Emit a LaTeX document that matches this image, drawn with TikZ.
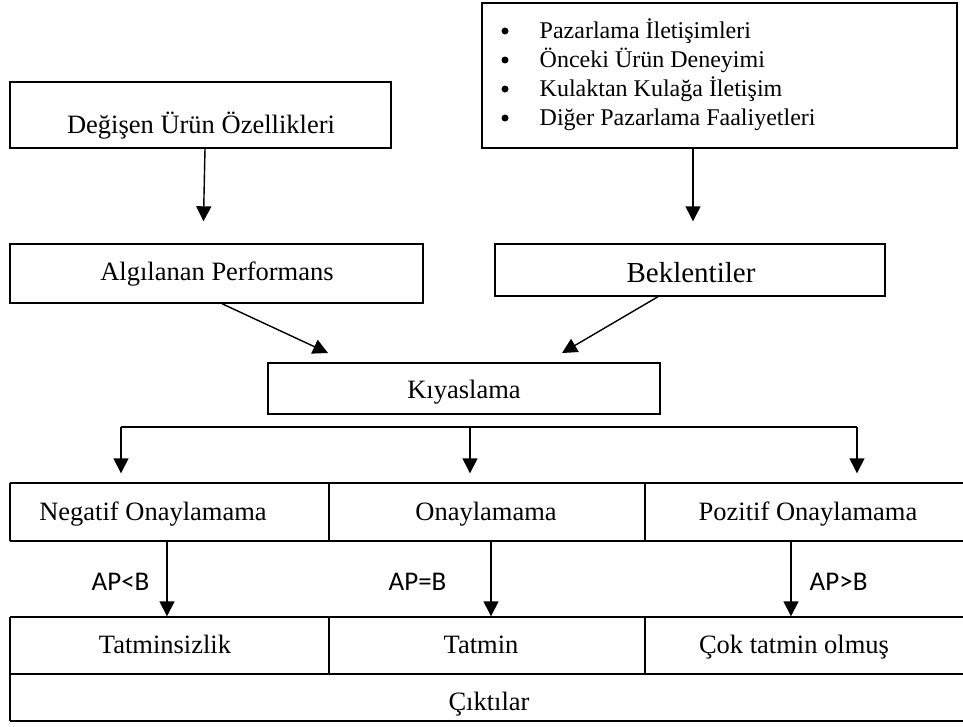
\documentclass[tikz,border=0pt]{standalone}
\usepackage{fontspec}
\setmainfont{Liberation Serif}
\newfontfamily\apfont{Carlito}
\usetikzlibrary{arrows.meta}
\begin{document}
\begin{tikzpicture}[x=1pt,y=-1pt,line width=1.4pt,
  box/.style={draw,rectangle,inner sep=0pt,line width=1.4pt},
  cellbox/.style={rectangle,inner sep=0pt},
  txt/.style={inner sep=0pt,anchor=base,font=\fontsize{26.5}{30}\selectfont},
  bigtxt/.style={inner sep=0pt,anchor=base,font=\fontsize{29}{33}\selectfont},
  bultxt/.style={inner sep=0pt,anchor=base west,font=\fontsize{24}{28}\selectfont},
  bulmark/.style={circle,fill=black,inner sep=0pt,minimum size=7pt},
  aptxt/.style={inner sep=0pt,anchor=base west,font=\apfont\fontsize{27}{31}\selectfont},
  arr/.style={-{Triangle[length=15pt,width=15pt]},line width=1.4pt},
  grid/.style={line width=1.4pt}]
\useasboundingbox[fill=white] (0,0) rectangle (963,726);

% top boxes
\node[box,minimum width=381pt,minimum height=66pt] (deg) at (200.5,115) {};
\node[txt] (degt) at (201,133) {Değişen Ürün Özellikleri};

\node[box,minimum width=475pt,minimum height=145pt] (src) at (719.5,75.5) {};
\node[bulmark] (b1) at (505,31) {};
\node[bulmark] (b2) at (505,60) {};
\node[bulmark] (b3) at (505,89) {};
\node[bulmark] (b4) at (505,118) {};
\node[bultxt] (s1) at (539,38.5) {Pazarlama İletişimleri};
\node[bultxt] (s2) at (539,67.5) {Önceki Ürün Deneyimi};
\node[bultxt] (s3) at (539,96.5) {Kulaktan Kulağa İletişim};
\node[bultxt] (s4) at (539,125.5) {Diğer Pazarlama Faaliyetleri};

% second row
\node[box,minimum width=413pt,minimum height=59pt] (alg) at (216.5,273.5) {};
\node[txt] (algt) at (217,280) {Algılanan Performans};
\node[box,minimum width=390pt,minimum height=52pt] (bek) at (690,270) {};
\node[bigtxt] (bekt) at (691,282) {Beklentiler};

\draw[arr,shorten >=22pt] ([xshift=4.5pt]deg.south) -- ([xshift=-13.5pt]alg.north);
\draw[arr,shorten >=22pt] ([xshift=-26.5pt]src.south) -- ([xshift=3pt]bek.north);

% comparison
\node[box,minimum width=392pt,minimum height=51pt] (kiy) at (464,388.5) {};
\node[txt] (kiyt) at (464,398) {Kıyaslama};
\coordinate (kiyL) at (328,353);
\coordinate (kiyR) at (562,353);
\draw[arr] ([xshift=5.5pt]alg.south) -- (kiyL);
\draw[arr] ([xshift=-32pt]bek.south) -- (kiyR);

% branch
\coordinate (brL) at (121,427);
\coordinate (brM) at (470,427);
\coordinate (brR) at (857,427);
\draw[grid] (brL) -- (brR);

% result cells
\node[cellbox,minimum width=319pt,minimum height=58pt] (negc) at (169.5,512) {};
\node[cellbox,minimum width=316pt,minimum height=58pt] (onac) at (487,512) {};
\node[cellbox,minimum width=318pt,minimum height=58pt] (pozc) at (804,512) {};
\node[cellbox,minimum width=319pt,minimum height=57pt] (tatc) at (169.5,645.5) {};
\node[cellbox,minimum width=316pt,minimum height=57pt] (tamc) at (487,645.5) {};
\node[cellbox,minimum width=318pt,minimum height=57pt] (cokc) at (804,645.5) {};
\node[cellbox,minimum width=953pt,minimum height=47pt] (cikc) at (486.5,697.5) {};

\draw[grid] (10,483) -- (963,483);
\draw[grid] (10,541) -- (963,541);
\draw[grid] (10,617) -- (963,617);
\draw[grid] (10,674) -- (963,674);
\draw[grid] (10,721) -- (963,721);
\draw[grid] (10,483) -- (10,541);
\draw[grid] (329,483) -- (329,541);
\draw[grid] (645,483) -- (645,541);
\draw[grid] (10,617) -- (10,721);
\draw[grid] (329,617) -- (329,674);
\draw[grid] (645,617) -- (645,674);

\draw[arr,shorten >=9pt] (brL) -- (brL |- negc.north);
\draw[arr,shorten >=9pt] (brM) -- (brM |- onac.north);
\draw[arr,shorten >=9pt] (brR) -- (brR |- pozc.north);

\node[txt] (negt) at (153,520) {Negatif Onaylamama};
\node[txt] (onat) at (486,520) {Onaylamama};
\node[txt] (pozt) at (808,520) {Pozitif Onaylamama};
\node[txt] (tatt) at (165,653) {Tatminsizlik};
\node[txt] (tamt) at (481,653) {Tatmin};
\node[txt] (cokt) at (794,653) {Çok tatmin olmuş};
\node[txt] (cikt) at (489,710) {Çıktılar};

\draw[arr] ([xshift=-2.5pt]negc.south) -- ([xshift=-2.5pt]tatc.north);
\draw[arr] ([xshift=4pt]onac.south) -- ([xshift=4pt]tamc.north);
\draw[arr] ([xshift=-13pt]pozc.south) -- ([xshift=-13pt]cokc.north);

\node[aptxt] (ap1) at (91,590) {AP<B};
\node[aptxt] (ap2) at (388,590) {AP=B};
\node[aptxt] (ap3) at (809,590) {AP>B};
\end{tikzpicture}
\end{document}
